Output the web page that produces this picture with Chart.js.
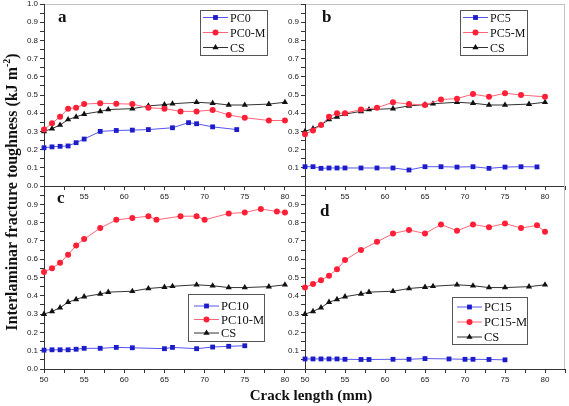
<!DOCTYPE html>
<html>
<head>
<meta charset="utf-8">
<script src="https://cdn.jsdelivr.net/npm/chart.js@4.4.1/dist/chart.umd.min.js"></script>
<style>
  html, body { margin: 0; padding: 0; background: #fff; }
  #figure { position: relative; width: 569px; height: 406px; }
  #figure canvas { position: absolute; left: 0; top: 0; }
</style>
</head>
<body>
<div id="figure"></div>
<script>
// CS reference curve, same in every panel
const csX = [50, 51, 52, 53, 54, 55, 57, 58, 61, 63, 65, 66, 69, 71, 73, 75, 78, 80]
const csY = [0.30, 0.315, 0.335, 0.365, 0.38, 0.395, 0.41, 0.42, 0.425, 0.44, 0.447, 0.452, 0.46, 0.455, 0.445, 0.445, 0.45, 0.46]

const pc0X = [50, 51, 52, 53, 54, 55, 57, 59, 61, 63, 66, 68, 69, 71, 74]
const pc0Y = [0.21, 0.215, 0.218, 0.22, 0.238, 0.258, 0.30, 0.305, 0.307, 0.31, 0.32, 0.348, 0.342, 0.325, 0.31]
const pc0mX = [50, 51, 52, 53, 54, 55, 57, 59, 61, 63, 65, 67, 69, 71, 73, 75, 78, 80]
const pc0mY = [0.31, 0.345, 0.38, 0.425, 0.43, 0.45, 0.455, 0.452, 0.45, 0.43, 0.425, 0.41, 0.41, 0.418, 0.39, 0.375, 0.36, 0.36]

const pc5X = [50, 51, 52, 53, 54, 55, 57, 59, 61, 63, 65, 67, 69, 71, 73, 75, 77, 79]
const pc5Y = [0.106, 0.106, 0.097, 0.099, 0.099, 0.099, 0.099, 0.099, 0.099, 0.088, 0.106, 0.106, 0.104, 0.106, 0.097, 0.104, 0.106, 0.105]
const pc5mX = [50, 51, 52, 53, 54, 55, 57, 59, 61, 63, 65, 67, 69, 71, 73, 75, 77, 80]
const pc5mY = [0.285, 0.305, 0.335, 0.38, 0.40, 0.40, 0.42, 0.43, 0.46, 0.45, 0.445, 0.475, 0.48, 0.505, 0.49, 0.51, 0.50, 0.49]

const pc10X = [50, 51, 52, 53, 54, 55, 57, 59, 61, 65, 66, 69, 71, 73, 75]
const pc10Y = [0.103, 0.105, 0.105, 0.105, 0.108, 0.113, 0.113, 0.118, 0.116, 0.111, 0.118, 0.111, 0.12, 0.124, 0.127]
const pc10mX = [50, 51, 52, 53, 54, 55, 57, 59, 61, 63, 64, 67, 69, 70, 73, 75, 77, 79, 80]
const pc10mY = [0.53, 0.55, 0.58, 0.625, 0.675, 0.71, 0.77, 0.815, 0.825, 0.835, 0.815, 0.835, 0.835, 0.815, 0.85, 0.855, 0.875, 0.86, 0.855]

const pc15X = [50, 51, 52, 53, 54, 55, 57, 58, 61, 63, 65, 68, 70, 71, 73, 75]
const pc15Y = [0.055, 0.055, 0.055, 0.055, 0.055, 0.053, 0.052, 0.052, 0.053, 0.053, 0.057, 0.055, 0.053, 0.053, 0.052, 0.05]
const pc15mX = [50, 51, 52, 53, 54, 55, 57, 59, 61, 63, 65, 67, 69, 71, 73, 75, 77, 79, 80]
const pc15mY = [0.445, 0.465, 0.485, 0.51, 0.545, 0.595, 0.65, 0.695, 0.74, 0.76, 0.74, 0.79, 0.755, 0.79, 0.775, 0.795, 0.77, 0.785, 0.75]

const W = 569
const H = 406
const Y_AXIS_W = 30
const X_AXIS_H = 20

const zip = (xs, ys) => xs.map((x, i) => ({x: x, y: ys[i]}))

function blueSeries(label, xs, ys) {
  return {
    label: label, data: zip(xs, ys),
    borderColor: '#5555ee', borderWidth: 1,
    pointStyle: 'rect', pointRadius: 3.4,
    pointBackgroundColor: '#1c1cc8', pointBorderColor: '#1c1cc8', pointBorderWidth: 0,
    clip: false,
  }
}

function redSeries(label, xs, ys) {
  return {
    label: label, data: zip(xs, ys),
    borderColor: '#ff6677', borderWidth: 1,
    pointStyle: 'circle', pointRadius: 3,
    pointBackgroundColor: '#ff2038', pointBorderColor: '#ff2038', pointBorderWidth: 0,
    clip: false,
  }
}

function csSeries() {
  return {
    label: 'CS', data: zip(csX, csY),
    borderColor: '#333', borderWidth: 1,
    pointStyle: 'triangle', pointRadius: 3.6,
    pointBackgroundColor: '#111', pointBorderColor: '#111', pointBorderWidth: 0,
    clip: false,
  }
}

const panelFrame = {
  id: 'panelFrame',
  beforeDraw(chart, args, opts) {
    const {ctx, chartArea} = chart
    ctx.save()
    ctx.strokeStyle = '#c4c4c4'
    ctx.lineWidth = 1
    ctx.beginPath()
    if (opts.top) {
      ctx.moveTo(chartArea.left, chartArea.top + 0.5)
      ctx.lineTo(chartArea.right, chartArea.top + 0.5)
    }
    if (opts.right) {
      ctx.moveTo(chartArea.right - 0.5, chartArea.top)
      ctx.lineTo(chartArea.right - 0.5, chartArea.bottom)
    }
    ctx.stroke()
    ctx.restore()
  }
}

const boxLegend = {
  id: 'boxLegend',
  afterDraw(chart, args, opts) {
    const {ctx, chartArea} = chart
    const x = Math.round(chartArea.left + opts.x)
    const y = Math.round(chartArea.top + opts.y)
    ctx.save()
    ctx.fillStyle = '#fff'
    ctx.fillRect(x, y, opts.w, opts.h)
    ctx.strokeStyle = '#555'
    ctx.lineWidth = 1
    ctx.strokeRect(x + 0.5, y + 0.5, opts.w, opts.h)
    chart.data.datasets.forEach((ds, i) => {
      const rowY = y + opts.row0 + i * opts.gap
      ctx.strokeStyle = ds.borderColor
      ctx.lineWidth = 1
      ctx.beginPath()
      ctx.moveTo(x + opts.pad, rowY)
      ctx.lineTo(x + opts.pad + 25, rowY)
      ctx.stroke()
      ctx.fillStyle = ds.pointBackgroundColor
      ctx.strokeStyle = ds.pointBorderColor
      Chart.helpers.drawPoint(ctx, {pointStyle: ds.pointStyle, radius: ds.pointRadius, borderWidth: 0, rotation: 0}, x + opts.pad + 12.5, rowY)
      ctx.fillStyle = '#111'
      ctx.font = opts.font + 'px "Liberation Serif"'
      ctx.textBaseline = 'middle'
      ctx.textAlign = 'left'
      ctx.fillText(ds.label, x + opts.pad + 27, rowY + 1)
    })
    ctx.restore()
  }
}

const panelLetter = {
  id: 'panelLetter',
  afterDraw(chart, args, opts) {
    const {ctx, chartArea} = chart
    ctx.save()
    ctx.fillStyle = '#111'
    ctx.font = 'bold 17px "Liberation Serif"'
    ctx.textBaseline = 'middle'
    ctx.fillText(opts.text, chartArea.left + opts.dx, chartArea.top + opts.dy)
    ctx.restore()
  }
}

// shared axis titles, drawn once by the first panel
const figureTitles = {
  id: 'figureTitles',
  afterDraw(chart, args, opts) {
    if (!opts.show) return
    const {ctx} = chart
    ctx.save()
    ctx.fillStyle = '#111'
    ctx.textBaseline = 'middle'
    ctx.font = 'bold 15px "Liberation Serif"'
    ctx.textAlign = 'center'
    ctx.fillText('Crack length (mm)', 311, 396)

    ctx.translate(13, 192)
    ctx.rotate(-Math.PI / 2)
    ctx.textAlign = 'left'
    const mainText = 'Interlaminar fracture toughness (kJ m'
    ctx.font = 'bold 16px "Liberation Serif"'
    const w1 = ctx.measureText(mainText).width
    const w3 = ctx.measureText(')').width
    ctx.font = 'bold 10px "Liberation Serif"'
    const w2 = ctx.measureText('-2').width
    const start = -(w1 + w2 + w3) / 2
    ctx.font = 'bold 16px "Liberation Serif"'
    ctx.fillText(mainText, start, 0)
    ctx.fillText(')', start + w1 + w2, 0)
    ctx.font = 'bold 10px "Liberation Serif"'
    ctx.fillText('-2', start + w1, -6)
    ctx.restore()
  }
}

const panels = [
  {
    letter: 'a', letterPos: [14, 13.5],
    area: {left: 44, top: 4, right: 305, bottom: 186},
    frame: {top: true, right: false},
    yLabels: [0, 10], xLabels: [55, 80],
    legend: {x: 156, y: 6, w: 67, h: 45, row0: 7.5, gap: 15, pad: 3, font: 12},
    datasets: [blueSeries('PC0', pc0X, pc0Y), redSeries('PC0-M', pc0mX, pc0mY), csSeries()],
    titles: true,
  },
  {
    letter: 'b', letterPos: [17, 13.5],
    area: {left: 305, top: 4, right: 567, bottom: 186},
    frame: {top: true, right: true},
    yLabels: [1, 9], xLabels: [55, 80],
    legend: {x: 155, y: 6, w: 67, h: 45, row0: 7.5, gap: 15, pad: 3, font: 12},
    datasets: [blueSeries('PC5', pc5X, pc5Y), redSeries('PC5-M', pc5mX, pc5mY), csSeries()],
  },
  {
    letter: 'c', letterPos: [13, 13],
    area: {left: 44, top: 186, right: 305, bottom: 369},
    frame: {top: false, right: false},
    yLabels: [0, 9], xLabels: [50, 80],
    legend: {x: 144, y: 108, w: 76, h: 47, row0: 12, gap: 13.5, pad: 6, font: 12.5},
    datasets: [blueSeries('PC10', pc10X, pc10Y), redSeries('PC10-M', pc10mX, pc10mY), csSeries()],
  },
  {
    letter: 'd', letterPos: [15, 26],
    area: {left: 305, top: 186, right: 567, bottom: 369},
    frame: {top: false, right: true},
    yLabels: [1, 9], xLabels: [50, 80],
    legend: {x: 147, y: 111, w: 75, h: 47, row0: 10, gap: 15, pad: 5, font: 12.5},
    datasets: [blueSeries('PC15', pc15X, pc15Y), redSeries('PC15-M', pc15mX, pc15mY), csSeries()],
  },
]

function createPanel(panel) {
  const canvas = document.createElement('canvas')
  canvas.width = W
  canvas.height = H
  document.getElementById('figure').appendChild(canvas)

  const axisLine = '#333'
  const tickFont = {family: '"Liberation Sans", Arial, sans-serif', size: 8}

  return new Chart(canvas.getContext('2d'), {
    type: 'line',
    data: {datasets: panel.datasets},
    options: {
      responsive: false,
      animation: false,
      events: [],
      layout: {
        padding: {
          left: panel.area.left - Y_AXIS_W,
          right: W - panel.area.right,
          top: panel.area.top,
          bottom: H - panel.area.bottom - X_AXIS_H,
        },
      },
      scales: {
        x: {
          type: 'linear',
          min: 50,
          max: 82.5,
          afterFit: axis => { axis.height = X_AXIS_H; axis.paddingLeft = 0; axis.paddingRight = 0 },
          grid: {drawOnChartArea: false, tickLength: 4, color: axisLine},
          border: {color: axisLine, width: 1},
          ticks: {
            stepSize: 2.5,
            autoSkip: false,
            maxRotation: 0,
            padding: 2,
            color: '#1a1a1a',
            font: tickFont,
            callback: value => {
              if (value % 5 !== 0) return ''
              if (value < panel.xLabels[0] || value > panel.xLabels[1]) return ''
              return String(value)
            },
          },
        },
        y: {
          min: 0,
          max: 1,
          afterFit: axis => { axis.width = Y_AXIS_W; axis.paddingTop = 0; axis.paddingBottom = 0 },
          grid: {drawOnChartArea: false, tickLength: 4, color: axisLine},
          border: {color: axisLine, width: 1},
          ticks: {
            stepSize: 0.05,
            autoSkip: false,
            padding: 2,
            color: '#1a1a1a',
            font: tickFont,
            callback: value => {
              const tenth = Math.round(value * 10)
              if (Math.abs(value * 10 - tenth) > 1e-6) return ''
              if (tenth < panel.yLabels[0] || tenth > panel.yLabels[1]) return ''
              return (tenth / 10).toFixed(1)
            },
          },
        },
      },
      plugins: {
        legend: {display: false},
        tooltip: {enabled: false},
        panelFrame: panel.frame,
        boxLegend: panel.legend,
        panelLetter: {text: panel.letter, dx: panel.letterPos[0], dy: panel.letterPos[1]},
        figureTitles: {show: !!panel.titles},
      },
    },
    plugins: [panelFrame, boxLegend, panelLetter, figureTitles],
  })
}

document.addEventListener('DOMContentLoaded', () => {
  panels.forEach(createPanel)
})
</script>
</body>
</html>
